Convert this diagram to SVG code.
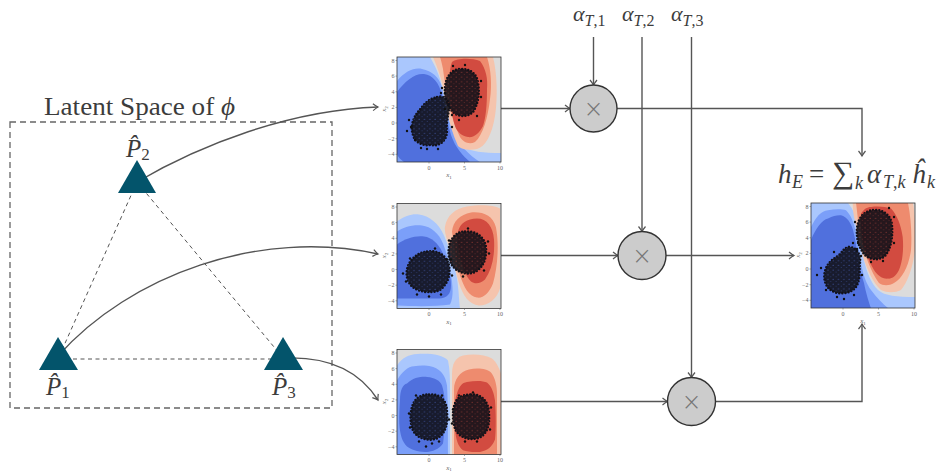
<svg xmlns="http://www.w3.org/2000/svg" width="949" height="471" viewBox="0 0 949 471">
<style>
.ln{fill:none;stroke:#555;stroke-width:1.4}
.dbox{fill:none;stroke:#666;stroke-width:1.3;stroke-dasharray:6 4}
.dtri{fill:none;stroke:#555;stroke-width:1;stroke-dasharray:4 3.5}
.tri{fill:#03546b}
.mul{fill:#cccccc;stroke:#333;stroke-width:1.4}
.lbl{font-family:"Liberation Serif",serif;fill:#3c3c3c}
.x{font-family:"DejaVu Sans",sans-serif;font-size:24px;fill:#777;text-anchor:middle;font-weight:200}
.tk{font-family:"Liberation Serif",serif;font-size:6px;fill:#666}
.tkl{text-anchor:end}
.tkb{text-anchor:middle}
.ax{font-family:"Liberation Serif",serif;font-size:7px;fill:#666;font-style:italic;text-anchor:middle}
.g{fill:#dcdcdc}.lb{fill:#aac7fd}.mb{fill:#7b9ff9}.db{fill:#5070dd}
.r3{fill:#f5c4ad}.r2{fill:#ee8b6e}.r1{fill:#d24b40}
.frame{fill:none;stroke:#333;stroke-width:0.8}
.tm{fill:none;stroke:#555;stroke-width:0.5}
.pt{fill:#111}
.cl{fill:#121219;fill-opacity:0.9;stroke:#121219;stroke-width:2.5;stroke-dasharray:0 3.1;stroke-linecap:round}
.spb{fill:url(#spB)}
.spr{fill:url(#spR)}
</style>
<defs>
<marker id="ah" viewBox="-6 -5 7 10" refX="0" refY="0" markerWidth="7" markerHeight="10" markerUnits="userSpaceOnUse" orient="auto" overflow="visible">
<path d="M-5,-3.5 Q-1.8,-0.9 0,0 Q-1.8,0.9 -5,3.5" fill="none" stroke="#555" stroke-width="1.2"/>
</marker>
<clipPath id="clipP"><rect width="104" height="105"/></clipPath>
<pattern id="spB" width="5.3" height="4.7" patternUnits="userSpaceOnUse"><circle cx="1" cy="1.2" r="0.5" fill="#4d68c8"/><circle cx="3.7" cy="3.4" r="0.45" fill="#4d68c8"/></pattern>
<pattern id="spR" width="5.3" height="4.7" patternUnits="userSpaceOnUse"><circle cx="1" cy="1.2" r="0.5" fill="#b8453b"/><circle cx="3.7" cy="3.4" r="0.45" fill="#b8453b"/></pattern>
<path id="b1b" d="M40,40 C48,38 53,44 52,52 C51,60 49,68 50,74 C50,84 42,90 34,88 C26,89 18,86 16,78 C13,70 16,62 20,56 C25,50 30,42 40,40 Z"/>
<path id="b1r" d="M62,12 C72,11 80,16 81,26 C83,36 81,48 76,55 C70,61 60,60 55,54 C50,48 47,40 48,30 C49,20 54,13 62,12 Z"/>
<path id="b2b" d="M30,48 C40,46 50,52 52,62 C54,72 50,82 42,87 C34,90 22,89 15,83 C9,77 8,68 12,60 C16,53 22,49 30,48 Z"/>
<path id="b2r" d="M68,28 C78,27 88,33 89,44 C90,55 86,65 77,69 C68,72 58,68 54,60 C50,52 51,40 56,34 C59,30 63,28 68,28 Z"/>
<path id="b3b" d="M32,45 C42,44 50,50 50,62 C51,74 49,84 40,89 C31,92 20,89 16,81 C12,72 13,58 18,51 C22,46 27,45 32,45 Z"/>
<path id="b3r" d="M74,45 C84,44 92,52 92,64 C93,76 90,86 80,89 C70,91 61,87 58,79 C55,70 55,57 60,50 C64,46 69,45 74,45 Z"/>
<path id="b4b" d="M38,44 C46,44 50,52 49,60 C48,68 50,76 45,84 C40,91 28,92 21,88 C14,84 12,75 14,68 C16,60 22,56 28,52 C32,48 34,44 38,44 Z"/>
<path id="b4r" d="M62,7 C72,6 80,12 81,22 C82,34 80,46 74,53 C68,58 58,57 53,51 C48,45 45,35 46,25 C47,15 53,8 62,7 Z"/>
</defs>

<rect width="949" height="471" fill="#ffffff"/>

<g id="latent-space">
<rect class="dbox" x="10" y="122" width="322" height="286"/>
<text class="lbl" x="44" y="115" font-size="25" textLength="191" lengthAdjust="spacingAndGlyphs">Latent Space of <tspan font-style="italic">ϕ</tspan></text>
<path class="dtri" d="M137,182 L58,359 M137,182 L284,359 M58,359 H284"/>
</g>

<g id="connectors">
<path class="ln" d="M137,182 C200,145 290,110 378,107" marker-end="url(#ah)"/>
<path class="ln" d="M58,356 C130,275 260,228 378,254" marker-end="url(#ah)"/>
<path class="ln" d="M284,358 C330,356 360,372 378,400" marker-end="url(#ah)"/>
<path class="ln" d="M501,108.5 H570" marker-end="url(#ah)"/>
<path class="ln" d="M617,108.5 H862 V156" marker-end="url(#ah)"/>
<path class="ln" d="M593.5,37 V85" marker-end="url(#ah)"/>
<path class="ln" d="M642,37 V231.5" marker-end="url(#ah)"/>
<path class="ln" d="M691.5,37 V377.5" marker-end="url(#ah)"/>
<path class="ln" d="M501,255.5 H618" marker-end="url(#ah)"/>
<path class="ln" d="M666,255.5 H794" marker-end="url(#ah)"/>
<path class="ln" d="M501,401.5 H667.5" marker-end="url(#ah)"/>
<path class="ln" d="M715.5,401.5 H862 V324" marker-end="url(#ah)"/>
</g>

<g id="P1">
<polygon class="tri" points="58,337 39,370 78,370"/>
<text class="lbl" x="46" y="395" font-size="25" font-style="italic">P̂<tspan font-size="17" font-style="normal" dy="3">1</tspan></text>
</g>
<g id="P2">
<polygon class="tri" points="137,160 118,193 156,193"/>
<text class="lbl" x="126" y="157" font-size="25" font-style="italic">P̂<tspan font-size="17" font-style="normal" dy="3">2</tspan></text>
</g>
<g id="P3">
<polygon class="tri" points="283,337 264,370 303,370"/>
<text class="lbl" x="272" y="395" font-size="25" font-style="italic">P̂<tspan font-size="17" font-style="normal" dy="3">3</tspan></text>
</g>

<g id="alphas">
<text class="lbl" x="573" y="21" font-size="22" font-style="italic">α<tspan font-size="16" dy="5">T</tspan><tspan font-size="16" font-style="normal">,1</tspan></text>
<text class="lbl" x="622" y="21" font-size="22" font-style="italic">α<tspan font-size="16" dy="5">T</tspan><tspan font-size="16" font-style="normal">,2</tspan></text>
<text class="lbl" x="671" y="21" font-size="22" font-style="italic">α<tspan font-size="16" dy="5">T</tspan><tspan font-size="16" font-style="normal">,3</tspan></text>
</g>

<g id="mul1"><circle class="mul" cx="593.5" cy="108.5" r="23.5"/><text class="x" x="593.5" y="116.5">×</text></g>
<g id="mul2"><circle class="mul" cx="642" cy="255.5" r="24"/><text class="x" x="642" y="263.5">×</text></g>
<g id="mul3"><circle class="mul" cx="691.5" cy="401.5" r="24"/><text class="x" x="691.5" y="409.5">×</text></g>

<g id="hE">
<text class="lbl" y="183" font-size="27" font-style="italic"><tspan x="778">h</tspan><tspan x="792" font-size="18" dy="5">E</tspan><tspan x="809" font-style="normal" dy="-5">=</tspan><tspan x="832" font-style="normal" font-size="31">∑</tspan><tspan x="855" font-size="18" dy="6">k</tspan><tspan x="867" dy="-6">α</tspan><tspan x="883" font-size="18" dy="5">T</tspan><tspan font-size="18" font-style="normal">,</tspan><tspan font-size="18">k</tspan><tspan x="912" dy="-5">ĥ</tspan><tspan x="927" font-size="18" dy="5">k</tspan></text>
</g>

<g id="plot1" transform="translate(397,57)">
<g clip-path="url(#clipP)">
<rect class="g" width="104" height="105"/>
<path class="lb" d="M0,0 H33 C40,12 44,22 46,35 C50,55 55,75 66,89 C74,95 86,96 104,96 V105 H0 Z"/>
<path class="mb" d="M0,24 C8,14 18,10 25,12 C35,14 42,20 45,30 C48,45 50,60 56,75 C62,88 72,98 83,105 H0 Z"/>
<path class="db" d="M0,35 C8,24 18,16 27,17 C36,18 42,26 45,38 C48,52 50,65 54,78 C58,90 66,99 73,105 H7 C4,103 1,100 0,97 Z"/>
<path class="r3" d="M36,0 H96 C100,15 101,40 98,59 C95,78 88,90 80,92 C72,94 64,92 61,89 C56,78 52,65 50,52 C48,38 46,28 43,19 C41,12 38,5 36,0 Z"/>
<path class="r2" d="M43,0 H90 C94,12 95,28 93,42 C91,60 86,78 78,85 C72,88 66,85 63,80 C58,70 54,57 51,45 C49,33 47,20 46,12 C45,7 44,3 43,0 Z"/>
<path class="r1" d="M55,5 C60,1 75,1 83,4 C89,12 91,22 90,32 C90,48 89,60 86,69 C82,77 76,81 71,80 C65,79 60,75 58,69 C55,60 54,48 53,39 C52,28 52,12 55,5 Z"/>
<use href="#b1b" class="cl"/><use href="#b1b" class="spb"/>
<use href="#b1r" class="cl"/><use href="#b1r" class="spr"/>
<circle class="pt" cx="14" cy="70" r="1.2"/><circle class="pt" cx="18" cy="83" r="1.2"/><circle class="pt" cx="24" cy="91" r="1.2"/><circle class="pt" cx="48" cy="36" r="1.2"/><circle class="pt" cx="55" cy="70" r="1.2"/><circle class="pt" cx="30" cy="92" r="1.2"/><circle class="pt" cx="41" cy="92" r="1.2"/><circle class="pt" cx="10" cy="74" r="1.2"/><circle class="pt" cx="55" cy="58" r="1.2"/><circle class="pt" cx="44" cy="36" r="1.2"/><circle class="pt" cx="12" cy="63" r="1.2"/>
<circle class="pt" cx="45" cy="31" r="1.2"/><circle class="pt" cx="48" cy="52" r="1.2"/><circle class="pt" cx="84" cy="24" r="1.2"/><circle class="pt" cx="80" cy="59" r="1.2"/><circle class="pt" cx="62" cy="63" r="1.2"/><circle class="pt" cx="56" cy="9" r="1.2"/><circle class="pt" cx="84" cy="40" r="1.2"/><circle class="pt" cx="68" cy="8" r="1.2"/>
</g>
<rect class="frame" width="104" height="105"/>
<path class="tm" d="M0,3.5h-1.5M0,19.1h-1.5M0,34.8h-1.5M0,50.4h-1.5M0,66h-1.5M0,81.7h-1.5M0,97.3h-1.5M32,105v1.5M67.5,105v1.5M103,105v1.5"/>
<text class="tk tkl" x="-2.5" y="5.5">8</text><text class="tk tkl" x="-2.5" y="21.1">6</text><text class="tk tkl" x="-2.5" y="36.8">4</text><text class="tk tkl" x="-2.5" y="52.4">2</text><text class="tk tkl" x="-2.5" y="68">0</text><text class="tk tkl" x="-2.5" y="83.7">−2</text><text class="tk tkl" x="-2.5" y="99.3">−4</text>
<text class="tk tkb" x="32" y="112.5">0</text><text class="tk tkb" x="67.5" y="112.5">5</text><text class="tk tkb" x="103" y="112.5">10</text>
<text class="ax" x="52" y="120">x<tspan font-size="5" font-style="normal" dy="1.5">1</tspan></text>
<text class="ax" transform="translate(-11,52) rotate(-90)">x<tspan font-size="5" font-style="normal" dy="1.5">2</tspan></text>
</g>

<g id="plot2" transform="translate(397,203.5)">
<g clip-path="url(#clipP)">
<rect class="g" width="104" height="105"/>
<path class="lb" d="M0,18 C8,12 16,10 22,11 C32,12 42,20 47,32 C53,46 57,60 60,75 C62,88 62,98 63,105 H0 Z"/>
<path class="mb" d="M0,28 C6,24 15,21 25,22 C34,23 42,30 46,40 C50,50 53,62 55,78 C56,88 56,95 53,101 C40,103 20,103 0,102 Z"/>
<path class="db" d="M0,41 C8,35 18,32 27,33 C35,34 41,40 45,48 C50,58 54,72 54,82 C54,90 50,95 42,95 H0 Z"/>
<path class="r3" d="M48,23 C50,12 58,5 70,3 C82,1 96,1 103,5 V85 C100,95 92,102 82,102 C72,101 66,92 62,80 C58,66 55,52 52,42 C50,35 47,29 48,23 Z"/>
<path class="r2" d="M55,28 C56,18 63,11 74,9 C86,8 96,12 99,24 C102,40 101,62 96,80 C92,90 86,95 80,94 C72,93 67,84 63,72 C60,60 57,44 55,28 Z"/>
<path class="r1" d="M61,28 C63,20 70,15 80,15 C90,15 96,23 97,36 C98,52 95,66 88,76 C84,80 78,81 74,78 C68,72 64,60 62,48 C61,40 60,34 61,28 Z"/>
<use href="#b2b" class="cl"/><use href="#b2b" class="spb"/>
<use href="#b2r" class="cl"/><use href="#b2r" class="spr"/>
<circle class="pt" cx="6" cy="70" r="1.2"/><circle class="pt" cx="9" cy="78" r="1.2"/><circle class="pt" cx="20" cy="91" r="1.2"/><circle class="pt" cx="32" cy="93" r="1.2"/><circle class="pt" cx="44" cy="91" r="1.2"/><circle class="pt" cx="54" cy="56" r="1.2"/><circle class="pt" cx="38" cy="45" r="1.2"/><circle class="pt" cx="13" cy="55" r="1.2"/><circle class="pt" cx="55" cy="72" r="1.2"/>
<circle class="pt" cx="52" cy="37" r="1.2"/><circle class="pt" cx="50" cy="56" r="1.2"/><circle class="pt" cx="91" cy="38" r="1.2"/><circle class="pt" cx="87" cy="67" r="1.2"/><circle class="pt" cx="66" cy="73" r="1.2"/><circle class="pt" cx="71" cy="25" r="1.2"/><circle class="pt" cx="92" cy="50" r="1.2"/>
</g>
<rect class="frame" width="104" height="105"/>
<path class="tm" d="M0,3.5h-1.5M0,19.1h-1.5M0,34.8h-1.5M0,50.4h-1.5M0,66h-1.5M0,81.7h-1.5M0,97.3h-1.5M32,105v1.5M67.5,105v1.5M103,105v1.5"/>
<text class="tk tkl" x="-2.5" y="5.5">8</text><text class="tk tkl" x="-2.5" y="21.1">6</text><text class="tk tkl" x="-2.5" y="36.8">4</text><text class="tk tkl" x="-2.5" y="52.4">2</text><text class="tk tkl" x="-2.5" y="68">0</text><text class="tk tkl" x="-2.5" y="83.7">−2</text><text class="tk tkl" x="-2.5" y="99.3">−4</text>
<text class="tk tkb" x="32" y="112.5">0</text><text class="tk tkb" x="67.5" y="112.5">5</text><text class="tk tkb" x="103" y="112.5">10</text>
<text class="ax" x="52" y="120">x<tspan font-size="5" font-style="normal" dy="1.5">1</tspan></text>
<text class="ax" transform="translate(-11,52) rotate(-90)">x<tspan font-size="5" font-style="normal" dy="1.5">2</tspan></text>
</g>

<g id="plot3" transform="translate(397,349.5)">
<g clip-path="url(#clipP)">
<rect class="g" width="104" height="105"/>
<path class="lb" d="M0,16 C5,8 12,5 20,4.5 C32,3.5 46,5 51,11 C53,20 53,30 53,41 V105 H0 Z"/>
<path class="mb" d="M0,31 C5,22 11,17 17,16.7 C26,15 36,16 41,20 C47,24 49,30 50,36 C51,50 51,80 51,105 H0 Z"/>
<path class="db" d="M3,51 C3,40 6,35 10,34 C16,28 24,27 30,27.4 C38,28 43,31 45,36 C48,45 48,55 48,64 C48,75 47,88 46,94 C42,100 35,102 30,102.4 C22,103 14,100 10,97 C5,92 3,85 2.3,74 C2,66 2.5,58 3,51 Z"/>
<path class="r3" d="M55,105 V25 C55,15 58,8 66,6 C76,4 88,5 95,9 C99,12 102,18 104,24 V105 Z"/>
<path class="r2" d="M57,105 V40 C57,30 63,22 72,20 C80,18 90,19 94,23 C98,28 100,36 100,45 V105 Z"/>
<path class="r1" d="M58,80 C57,65 57,52 60,44 C62,37 65,33 70,32.4 C78,31 86,31 90,33 C95,37 97,44 98,51 C99,65 99,80 98,90 C95,98 90,101 83,102.4 C76,103 70,102 66,100.7 C61,97 59,90 58,80 Z"/>
<use href="#b3b" class="cl"/><use href="#b3b" class="spb"/>
<use href="#b3r" class="cl"/><use href="#b3r" class="spr"/>
<circle class="pt" cx="12" cy="64" r="1.2"/><circle class="pt" cx="13" cy="78" r="1.2"/><circle class="pt" cx="22" cy="92" r="1.2"/><circle class="pt" cx="35" cy="94" r="1.2"/><circle class="pt" cx="29" cy="97" r="1.2"/><circle class="pt" cx="42" cy="92" r="1.2"/><circle class="pt" cx="52" cy="70" r="1.2"/><circle class="pt" cx="19" cy="46" r="1.2"/><circle class="pt" cx="45" cy="46" r="1.2"/>
<circle class="pt" cx="56" cy="60" r="1.2"/><circle class="pt" cx="55" cy="74" r="1.2"/><circle class="pt" cx="94" cy="58" r="1.2"/><circle class="pt" cx="93" cy="80" r="1.2"/><circle class="pt" cx="68" cy="92" r="1.2"/><circle class="pt" cx="80" cy="92" r="1.2"/><circle class="pt" cx="76" cy="43" r="1.2"/><circle class="pt" cx="62" cy="46" r="1.2"/>
</g>
<rect class="frame" width="104" height="105"/>
<path class="tm" d="M0,3.5h-1.5M0,19.1h-1.5M0,34.8h-1.5M0,50.4h-1.5M0,66h-1.5M0,81.7h-1.5M0,97.3h-1.5M32,105v1.5M67.5,105v1.5M103,105v1.5"/>
<text class="tk tkl" x="-2.5" y="5.5">8</text><text class="tk tkl" x="-2.5" y="21.1">6</text><text class="tk tkl" x="-2.5" y="36.8">4</text><text class="tk tkl" x="-2.5" y="52.4">2</text><text class="tk tkl" x="-2.5" y="68">0</text><text class="tk tkl" x="-2.5" y="83.7">−2</text><text class="tk tkl" x="-2.5" y="99.3">−4</text>
<text class="tk tkb" x="32" y="112.5">0</text><text class="tk tkb" x="67.5" y="112.5">5</text><text class="tk tkb" x="103" y="112.5">10</text>
<text class="ax" x="52" y="120">x<tspan font-size="5" font-style="normal" dy="1.5">1</tspan></text>
<text class="ax" transform="translate(-11,52) rotate(-90)">x<tspan font-size="5" font-style="normal" dy="1.5">2</tspan></text>
</g>

<g id="plot4" transform="translate(811,203)">
<g clip-path="url(#clipP)">
<rect class="g" width="104" height="105"/>
<path class="lb" d="M0,0 H37 C42,6 45,13 47,21 C50,32 52,45 53,57 C56,70 60,80 67,87 C74,93 86,94 104,94 V105 H0 Z"/>
<path class="mb" d="M0,24 C5,14 10,8 17,7.3 C24,6 31,6 35,7.3 C40,12 43,20 45,30 C48,42 49,52 50,60 C52,72 56,82 60,87 C66,95 72,101 77,105 H0 Z"/>
<path class="db" d="M0,37 C5,25 11,17 17,15.6 C22,13 26,12 30,12.3 C36,14 40,20 42,27 C45,38 46,48 47,57 C49,66 51,74 53,80 C55,90 58,100 60,105 H0 Z"/>
<path class="r3" d="M41.7,0 H102 C104,10 105,30 104,47 C102,65 96,80 90,87 C84,90 76,90 70,87 C62,80 55,65 50,47 C47,35 45,22 43,14 C42,8 41.7,3 41.7,0 Z"/>
<path class="r2" d="M45,0 H97 C100,15 101,32 100,47 C98,62 92,75 83,80 C78,83 72,83 68,80 C62,72 56,58 52,44 C49,33 47,22 46.7,14 C46,8 45.5,3 45,0 Z"/>
<path class="r1" d="M50,10.6 C53,6 56,4 60,4 C68,3 75,4 80,5.6 C86,12 90,22 91.7,34 C93,48 91,60 88,67 C85,73 81,76 77,75.6 C71,76 66,72 63,67 C59,60 55,52 53,44 C51,34 49,20 50,10.6 Z"/>
<use href="#b4b" class="cl"/><use href="#b4b" class="spb"/>
<use href="#b4r" class="cl"/><use href="#b4r" class="spr"/>
<circle class="pt" cx="6" cy="72" r="1.2"/><circle class="pt" cx="10" cy="65" r="1.2"/><circle class="pt" cx="15" cy="87" r="1.2"/><circle class="pt" cx="26" cy="94" r="1.2"/><circle class="pt" cx="33" cy="96" r="1.2"/><circle class="pt" cx="43" cy="92" r="1.2"/><circle class="pt" cx="51" cy="72" r="1.2"/><circle class="pt" cx="42" cy="40" r="1.2"/><circle class="pt" cx="23" cy="49" r="1.2"/><circle class="pt" cx="46" cy="46" r="1.2"/>
<circle class="pt" cx="44" cy="19" r="1.2"/><circle class="pt" cx="47" cy="40" r="1.2"/><circle class="pt" cx="83" cy="14" r="1.2"/><circle class="pt" cx="83" cy="40" r="1.2"/><circle class="pt" cx="72" cy="58" r="1.2"/><circle class="pt" cx="60" cy="59" r="1.2"/><circle class="pt" cx="78" cy="5" r="1.2"/><circle class="pt" cx="50" cy="53" r="1.2"/>
</g>
<rect class="frame" width="104" height="105"/>
<path class="tm" d="M0,3.5h-1.5M0,19.1h-1.5M0,34.8h-1.5M0,50.4h-1.5M0,66h-1.5M0,81.7h-1.5M0,97.3h-1.5M32,105v1.5M67.5,105v1.5M103,105v1.5"/>
<text class="tk tkl" x="-2.5" y="5.5">8</text><text class="tk tkl" x="-2.5" y="21.1">6</text><text class="tk tkl" x="-2.5" y="36.8">4</text><text class="tk tkl" x="-2.5" y="52.4">2</text><text class="tk tkl" x="-2.5" y="68">0</text><text class="tk tkl" x="-2.5" y="83.7">−2</text><text class="tk tkl" x="-2.5" y="99.3">−4</text>
<text class="tk tkb" x="32" y="112.5">0</text><text class="tk tkb" x="67.5" y="112.5">5</text><text class="tk tkb" x="103" y="112.5">10</text>
<text class="ax" x="52" y="120">x<tspan font-size="5" font-style="normal" dy="1.5">1</tspan></text>
<text class="ax" transform="translate(-11,52) rotate(-90)">x<tspan font-size="5" font-style="normal" dy="1.5">2</tspan></text>
</g>
</svg>
